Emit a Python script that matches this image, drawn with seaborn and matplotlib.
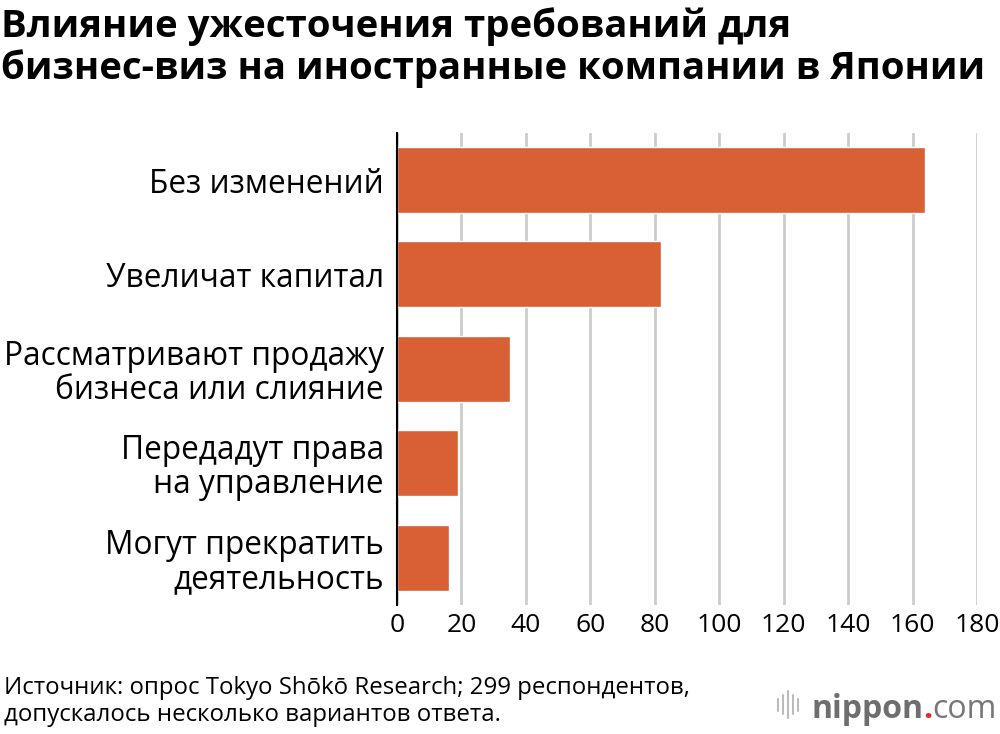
import matplotlib
matplotlib.use("Agg")
import matplotlib.pyplot as plt
import seaborn as sns
import pandas as pd

categories = [
    "Без изменений",
    "Увеличат капитал",
    "Рассматривают продажу\nбизнеса или слияние",
    "Передадут права\nна управление",
    "Могут прекратить\nдеятельность",
]
values = [164, 82, 35, 19, 16]
xticks = [0, 20, 40, 60, 80, 100, 120, 140, 160, 180]

title = "Влияние ужесточения требований для\nбизнес-виз на иностранные компании в Японии"
source = "Источник: опрос Tokyo Shōkō Research; 299 респондентов,\nдопускалось несколько вариантов ответа."

sns.set_theme(style="white")
plt.rcParams['font.family'] = ['Open Sans', 'DejaVu Sans']
plt.rcParams['text.color'] = 'black'
plt.rcParams['xtick.color'] = 'black'
plt.rcParams['ytick.color'] = 'black'

df = pd.DataFrame({"cat": categories, "val": values})

fig = plt.figure(figsize=(10, 7.34), dpi=100)
ax = fig.add_axes([0.397, 0.176, 0.58, 0.643])

sns.barplot(data=df, x="val", y="cat", orient="h", color="#D95F35",
            saturation=1, width=0.7, ax=ax, zorder=3)

ax.set_xlim(0, 180)
ax.set_ylim(4.5, -0.5)
ax.set_xticks(xticks)
ax.set_xticklabels([str(t) for t in xticks], fontsize=19, color='black')
ax.tick_params(axis='x', length=0, pad=6)
ax.tick_params(axis='y', length=0, pad=9.5)
for lbl in ax.get_yticklabels():
    lbl.set_fontsize(22.8)
    lbl.set_color('black')
    lbl.set_horizontalalignment('right')
    lbl.set_multialignment('right')
    lbl.set_linespacing(1.05)
ax.set_xlabel("")
ax.set_ylabel("")
ax.grid(axis='x', color='#cccccc', linewidth=2, zorder=0)
ax.grid(axis='y', visible=False)
for s in ["top", "right", "bottom"]:
    ax.spines[s].set_visible(False)
ax.spines["left"].set_color("black")
ax.spines["left"].set_linewidth(1.5)
ax.spines["left"].set_zorder(4)

fig.text(0.001, 0.99, title, fontsize=27.6, fontweight='bold', va='top', ha='left',
         linespacing=1.1, color='black')
fig.text(0.004, 0.079, source, fontsize=17.3, va='top', ha='left', linespacing=1.15, color='black')

# logo
fig.canvas.draw()
r = fig.canvas.get_renderer()
t_com = fig.text(0.997, 0.022, "com", fontsize=23, color='#777777', ha='right', va='baseline')
bb = t_com.get_window_extent(r)
t_dot = fig.text(bb.x0 / 1000, 0.022, ".", fontsize=23, color='#e8262b', ha='right', va='baseline',
                 fontweight='bold')
bb2 = t_dot.get_window_extent(r)
t_nip = fig.text(bb2.x0 / 1000, 0.022, "nippon", fontsize=23, color='#6e6e6e', ha='right',
                 va='baseline', fontweight='bold')
bb3 = t_nip.get_window_extent(r)
x0 = bb3.x0 / 1000 - 0.013
for i, h in enumerate([0.016, 0.026, 0.036, 0.026, 0.016]):
    x = x0 - (4 - i) * 0.005
    fig.add_artist(plt.Line2D([x, x], [0.040 - h / 2, 0.040 + h / 2], color='#bbbbbb', linewidth=1.5))

fig.savefig("out.png", dpi=100)
